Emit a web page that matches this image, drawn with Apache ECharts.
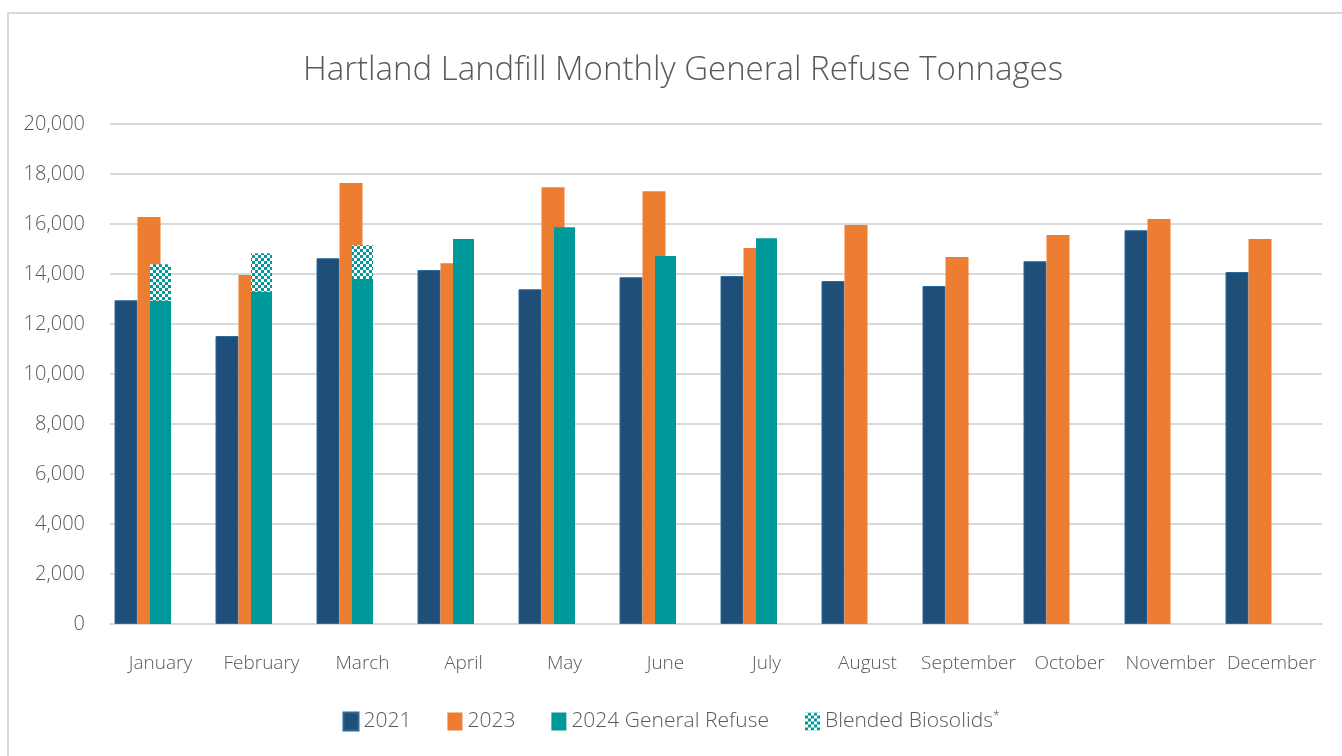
<!DOCTYPE html>
<html>
<head>
<meta charset="utf-8">
<script src="https://cdn.jsdelivr.net/npm/echarts@6/dist/echarts.min.js"></script>
<style>
  html, body { margin: 0; padding: 0; background: #fff; }
  #chart { width: 1342px; height: 756px; }
</style>
</head>
<body>
<div id="chart"></div>
<script>
// data
var months = ['January', 'February', 'March', 'April', 'May', 'June', 'July',
  'August', 'September', 'October', 'November', 'December'];
var y2021 = [12950, 11520, 14630, 14160, 13390, 13870, 13920, 13720, 13520, 14510, 15750, 14080];
var y2023 = [16280, 13960, 17640, 14430, 17470, 17310, 15040, 15960, 14680, 15560, 16200, 15400];
var y2024 = [12930, 13290, 13800, 15400, 15870, 14720, 15430, '-', '-', '-', '-', '-'];
var biosolids = [1460, 1540, 1350, '-', '-', '-', '-', '-', '-', '-', '-', '-'];
var yTicks = [0, 2000, 4000, 6000, 8000, 10000, 12000, 14000, 16000, 18000, 20000];
var empty = months.map(function () { return '-'; });

var textColor = '#595959';
var fontFam = '"Open Sans", "Noto Sans", sans-serif';

// checker pattern for the biosolids part
var pat = document.createElement('canvas');
pat.width = 6;
pat.height = 6;
var ctx = pat.getContext('2d');
ctx.fillStyle = '#009999';
ctx.fillRect(0, 0, 6, 6);
ctx.fillStyle = '#ffffff';
ctx.fillRect(0, 0, 3, 3);
ctx.fillRect(3, 3, 3, 3);

var mychart = echarts.init(document.getElementById('chart'));
var option = {
  backgroundColor: '#fff',
  animation: false,
  title: {
    text: 'Hartland Landfill Monthly General Refuse Tonnages',
    left: 298,
    top: 49,
    textStyle: { color: textColor, fontFamily: fontFam, fontWeight: 300, fontSize: 33 }
  },
  graphic: [{
    type: 'rect',
    shape: { x: 8, y: 13, width: 1400, height: 800 },
    style: { fill: 'none', stroke: '#d9d9d9', lineWidth: 2 },
    z: -1
  }],
  legend: {
    data: ['2021', '2023', '2024 General Refuse', 'Blended Biosolids'],
    bottom: 19,
    left: 'center',
    itemWidth: 15,
    itemHeight: 18,
    itemGap: 36,
    icon: 'rect',
    formatter: function (name) {
      return name === 'Blended Biosolids' ? name + '{s|*}' : name;
    },
    textStyle: {
      color: textColor, fontFamily: fontFam, fontWeight: 300, fontSize: 21,
      rich: { s: { fontSize: 12, verticalAlign: 'top', padding: [0, 0, 10, 0], color: textColor } }
    }
  },
  grid: { left: 110, right: 20, top: 124, bottom: 132 },
  xAxis: [{
    type: 'category',
    data: months,
    axisLine: { lineStyle: { color: '#d9d9d9', width: 2 } },
    axisTick: { show: false },
    axisLabel: { color: textColor, fontFamily: fontFam, fontWeight: 300, fontSize: 19, margin: 30, interval: 0 }
  }, {
    type: 'category',
    data: months,
    show: false
  }],
  yAxis: {
    type: 'value',
    min: yTicks[0],
    max: yTicks[yTicks.length - 1],
    interval: 2000,
    axisLine: { show: false },
    axisTick: { show: false },
    splitLine: { lineStyle: { color: '#d9d9d9', width: 2 } },
    axisLabel: {
      color: textColor, fontFamily: fontFam, fontWeight: 300, fontSize: 20, margin: 25,
      formatter: function (v) { return v.toLocaleString('en-US'); }
    }
  },
  series: [{
    name: '2021', type: 'bar', xAxisIndex: 0, data: y2021,
    barWidth: 23, barGap: '0%',
    itemStyle: { color: '#1f4e79', borderColor: '#2a6a9c', borderWidth: 1 }
  }, {
    name: '2023', type: 'bar', xAxisIndex: 0, data: y2023,
    barWidth: 23, barGap: '0%',
    itemStyle: { color: '#ed7d31' }
  }, {
    name: 'slotA', type: 'bar', xAxisIndex: 0, data: empty, barWidth: 23, barGap: '0%'
  }, {
    name: 'slotB', type: 'bar', xAxisIndex: 0, data: empty, barWidth: 23, barGap: '0%'
  }, {
    name: '2024 General Refuse', type: 'bar', xAxisIndex: 1, stack: 'y24', data: y2024,
    barWidth: 21,
    itemStyle: { color: '#009999' }
  }, {
    name: 'Blended Biosolids', type: 'bar', xAxisIndex: 1, stack: 'y24', data: biosolids,
    barWidth: 21,
    itemStyle: { color: { image: pat, repeat: 'repeat' } }
  }]
};
mychart.setOption(option);
</script>
</body>
</html>
